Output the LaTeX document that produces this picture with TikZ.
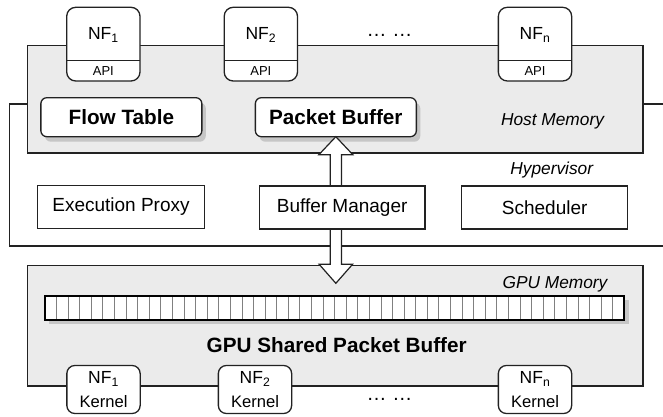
\documentclass[tikz,border=0pt]{standalone}
\usepackage{fontspec}
\setmainfont{Liberation Sans}
\usetikzlibrary{calc,shadows}
\definecolor{memgray}{HTML}{EBEBEB}
\definecolor{shadowgray}{HTML}{C6C6C6}
\definecolor{linedark}{HTML}{222222}
\definecolor{cellgray}{HTML}{808080}
\begin{document}
\begin{tikzpicture}[x=1pt,y=-1pt,
  frame/.style={draw=linedark, line width=1.3pt},
  membox/.style={frame, fill=memgray, inner sep=0pt, outer sep=0pt},
  plainbox/.style={frame, fill=white, inner sep=0pt, outer sep=0pt, minimum height=43pt},
  nfbox/.style={frame, fill=white, rounded corners=9pt, inner sep=0pt, outer sep=0pt, minimum width=73.3pt},
  boldbox/.style={frame, fill=white, rounded corners=6pt, inner sep=0pt, outer sep=0pt,
     minimum width=161pt, minimum height=39pt,
     drop shadow={shadow xshift=4pt, shadow yshift=-5pt, fill=shadowgray, opacity=1},
     font=\fontsize{20.7}{24}\selectfont\bfseries},
  boxtxt/.style={font=\fontsize{19}{22}\selectfont},
  itxt/.style={font=\fontsize{17.3}{20}\selectfont\itshape},
  nftxt/.style={font=\fontsize{17.5}{20}\selectfont, inner sep=0pt},
  apitxt/.style={font=\fontsize{13}{15}\selectfont, inner sep=0pt},
  dotstxt/.style={font=\fontsize{20}{24}\selectfont, inner sep=0pt, anchor=base}
]
\useasboundingbox (0,0) rectangle (663,417);

% hypervisor frame
\draw[frame] (27.5,104) -- (9.3,104) -- (9.3,246) -- (663,246);
\draw[frame] (643,104) -- (663,104);

% memory areas
\node[membox, minimum width=615.5pt, minimum height=107.3pt] (host) at (335.25,99.35) {};
\node[membox, minimum width=615.5pt, minimum height=120.5pt] (gpu) at (335.25,325.75) {};

% host contents
\node[boldbox] (ft) at (121.35,117.2) {Flow Table};
\node[boldbox] (pb) at (335.85,117.2) {Packet Buffer};
\node[itxt] (hostlbl) at (552.5,121.7) {Host Memory};

% NF boxes with API
\foreach \n/\cx/\s in {nfa/103.35/1, nfb/260.85/2, nfc/535/n}{
  \node[nfbox, minimum height=73.7pt] (\n) at (\cx,44.15) {};
  \draw[frame] (\n.west |- 0,60.7) -- (\n.east |- 0,60.7);
  \node[nftxt] (\n-t) at (\cx,35) {NF\textsubscript{\s}};
  \node[apitxt] (\n-api) at (\cx,71) {API};
}
\node[dotstxt] (topdots) at (389.5,37) {\dots\ \dots};

% double arrow between packet buffer and GPU memory
\draw[frame, line width=1.2pt, fill=white, line join=miter]
  (pb.south) -- ++(17,18) -- ++(-11.3,0) -- ++(0,109.6) -- ++(11,0)
  -- ++(-16.7,19) -- ++(-16.7,-19) -- ++(11,0) -- ++(0,-109.6) -- ++(-11.3,0) -- cycle;

% hypervisor contents
\node[itxt] (hyplbl) at (551.7,170) {Hypervisor};
\node[plainbox, boxtxt, minimum width=166.6pt] (ep) at (121,206.7) {Execution Proxy};
\node[plainbox, boxtxt, minimum width=165.7pt] (bm) at (342.15,207.5) {Buffer Manager};
\node[plainbox, boxtxt, minimum width=166pt] (sch) at (544.7,207.5) {Scheduler};

% GPU contents
\node[itxt] (gpulbl) at (555,284) {GPU Memory};
\fill[shadowgray] (49,300) rectangle (628.5,324);
\fill[white] (45,296) rectangle (624.3,320);
\foreach \i in {1,...,49}{
  \draw[cellgray, line width=0.9pt] ({45+\i*11.586},296) -- ({45+\i*11.586},320);
}
\draw[draw=black, line width=1.8pt] (45,296) rectangle (624.3,320);
\node[font=\fontsize{20.7}{24}\selectfont\bfseries] (gspb) at (336.7,345) {GPU Shared Packet Buffer};

% kernel boxes
\foreach \n/\cx/\s in {ka/103.5/1, kb/255/2, kc/535/n}{
  \node[nfbox, minimum height=48pt, rounded corners=8pt] (\n) at (\cx,389.5) {};
  \node[nftxt] (\n-t) at (\cx,379) {NF\textsubscript{\s}};
  \node[nftxt, font=\fontsize{16.6}{20}\selectfont] (\n-k) at (\cx,401.7) {Kernel};
}
\node[dotstxt] (botdots) at (389.5,400) {\dots\ \dots};
\end{tikzpicture}
\end{document}
